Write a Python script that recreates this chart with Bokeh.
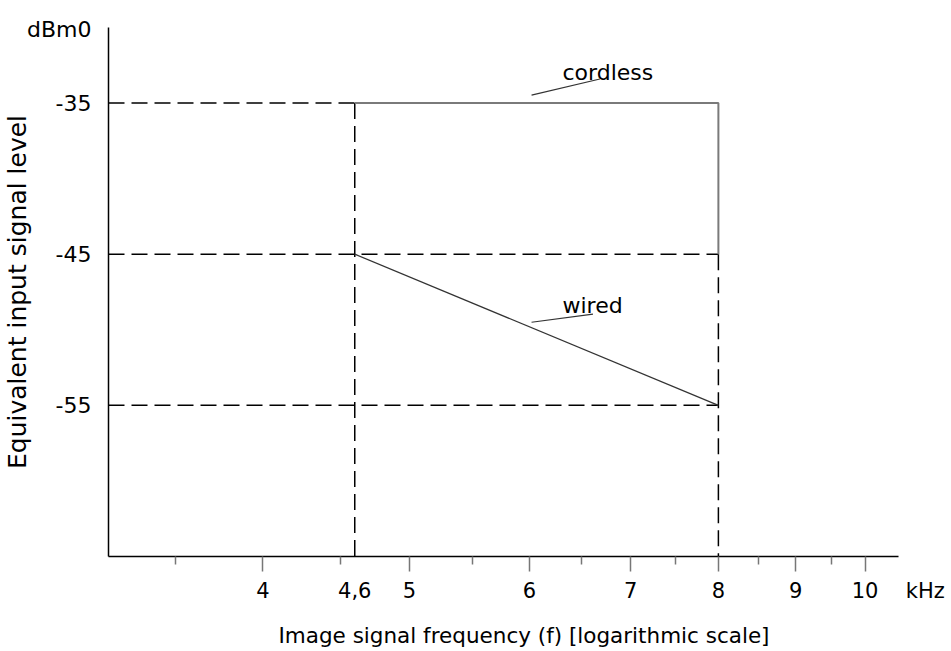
from bokeh.plotting import figure
from bokeh.models import LogAxis, FixedTicker, Range1d, Label, CustomJSTickFormatter
from bokeh.embed import file_html
from bokeh.resources import INLINE

# ---------------- data ----------------
level_ticks = [-55, -45, -35]                   # dBm0
freq_label_ticks = [4, 4.6, 5, 6, 7, 8, 9, 10]  # kHz (labelled)
freq_major_ticks = [4, 5, 6, 7, 8, 9, 10]
freq_minor_ticks = [3.5, 4.5, 5.5, 6.5, 7.5, 8.5, 9.5]
band_freqs = [4.6, 8.0]                         # kHz
cordless_level = -35                            # dBm0
wired_levels = [-45, -55]                       # dBm0 at 4.6 and 8 kHz
x_unit, x_unit_pos = "kHz", 10.96               # unit written after the last tick
y_unit, y_unit_pos = "dBm0", -30.13             # unit written above the first tick
x_lim = (3.1623, 10.515)                        # extent of the drawn axis
x_view_end = 11.2                               # room for the unit label
y_lim = (-65, -30)

FONT = "DejaVu Sans"

p = figure(width=948, height=651, x_axis_type="log",
           x_range=Range1d(x_lim[0], x_view_end), y_range=Range1d(*y_lim),
           output_backend="svg", toolbar_location=None,
           min_border_left=108, min_border_right=9,
           min_border_top=27, min_border_bottom=95)
p.outline_line_color = None
p.xgrid.visible = False
p.ygrid.visible = False
p.background_fill_color = "white"
p.border_fill_color = "white"

# ---- x axis 1: axis line + tick marks ----
xa = p.xaxis[0]
xa.bounds = x_lim
xa.ticker = FixedTicker(ticks=freq_major_ticks, minor_ticks=freq_minor_ticks)
xa.formatter = CustomJSTickFormatter(code="return '';")
xa.axis_line_color = "black"
xa.axis_line_width = 1.5
xa.major_tick_in = 0
xa.major_tick_out = 15
xa.minor_tick_in = 0
xa.minor_tick_out = 8
xa.major_tick_line_color = "#777777"
xa.minor_tick_line_color = "#777777"
xa.major_tick_line_width = 1.5
xa.minor_tick_line_width = 1.5
xa.major_label_text_font_size = "1px"
xa.major_label_standoff = 0

# ---- x axis 2: tick labels, unit and title ----
xa2 = LogAxis(ticker=FixedTicker(ticks=freq_label_ticks + [x_unit_pos], minor_ticks=[]),
              formatter=CustomJSTickFormatter(
                  args=dict(unit=x_unit, upos=x_unit_pos),
                  code="if (Math.abs(tick - upos) < 1e-6) { return unit; } "
                       "return String(tick).replace('.', ',');"))
xa2.axis_line_color = None
xa2.major_tick_line_color = None
xa2.minor_tick_line_color = None
xa2.major_tick_in = 0
xa2.major_tick_out = 0
xa2.minor_tick_in = 0
xa2.minor_tick_out = 0
xa2.major_label_standoff = 7
xa2.major_label_text_font = FONT
xa2.major_label_text_font_size = "21px"
xa2.major_label_text_color = "black"
xa2.axis_label = "Image signal frequency (f) [logarithmic scale]"
xa2.axis_label_text_font = FONT
xa2.axis_label_text_font_size = "21.5px"
xa2.axis_label_text_font_style = "normal"
xa2.axis_label_text_color = "black"
xa2.axis_label_standoff = 17
p.add_layout(xa2, "below")

# ---- y axis ----
ya = p.yaxis[0]
ya.ticker = FixedTicker(ticks=level_ticks + [y_unit_pos], minor_ticks=[])
ya.formatter = CustomJSTickFormatter(
    args=dict(unit=y_unit, upos=y_unit_pos),
    code="if (Math.abs(tick - upos) < 1e-6) { return unit; } return String(tick);")
ya.axis_line_color = "black"
ya.axis_line_width = 1.5
ya.major_tick_in = 0
ya.major_tick_out = 0
ya.minor_tick_in = 0
ya.minor_tick_out = 0
ya.major_label_standoff = 17
ya.major_label_text_font = FONT
ya.major_label_text_font_size = "22px"
ya.major_label_text_color = "black"
ya.axis_label = "Equivalent input signal level"
ya.axis_label_text_font = FONT
ya.axis_label_text_font_size = "25px"
ya.axis_label_text_font_style = "normal"
ya.axis_label_text_color = "black"
ya.axis_label_standoff = -8

# ---- dashed guide lines ----
x0 = x_lim[0]
y0 = y_lim[0]
guide_xs = [[x0, band_freqs[0]], [x0, band_freqs[1]], [x0, band_freqs[1]],
            [band_freqs[0], band_freqs[0]], [band_freqs[1], band_freqs[1]]]
guide_ys = [[cordless_level, cordless_level], [wired_levels[0], wired_levels[0]],
            [wired_levels[1], wired_levels[1]],
            [cordless_level, y0], [wired_levels[0], y0]]
p.multi_line(guide_xs, guide_ys, line_color="black", line_width=1.5, line_dash="16 7")

# ---- cordless limit ----
p.line([band_freqs[0], band_freqs[1], band_freqs[1]],
       [cordless_level, cordless_level, wired_levels[0]],
       line_color="#7a7a7a", line_width=2)

# ---- wired limit ----
p.line(band_freqs, wired_levels, line_color="#333333", line_width=1.3)

# ---- annotations ----
cordless_leader = ([6.02, 6.68], [-34.47, -33.41])
wired_leader = ([6.02, 6.61], [-49.5, -48.97])
p.line(*cordless_leader, line_color="#333333", line_width=1.2)
p.line(*wired_leader, line_color="#333333", line_width=1.2)

p.add_layout(Label(x=6.31, y=-32.95, text="cordless", text_font=FONT,
                   text_font_size="22px", text_color="black", text_align="left",
                   text_baseline="alphabetic"))
p.add_layout(Label(x=6.31, y=-48.38, text="wired", text_font=FONT,
                   text_font_size="22px", text_color="black", text_align="left",
                   text_baseline="alphabetic"))

open("out.html", "w").write(file_html(p, INLINE))
